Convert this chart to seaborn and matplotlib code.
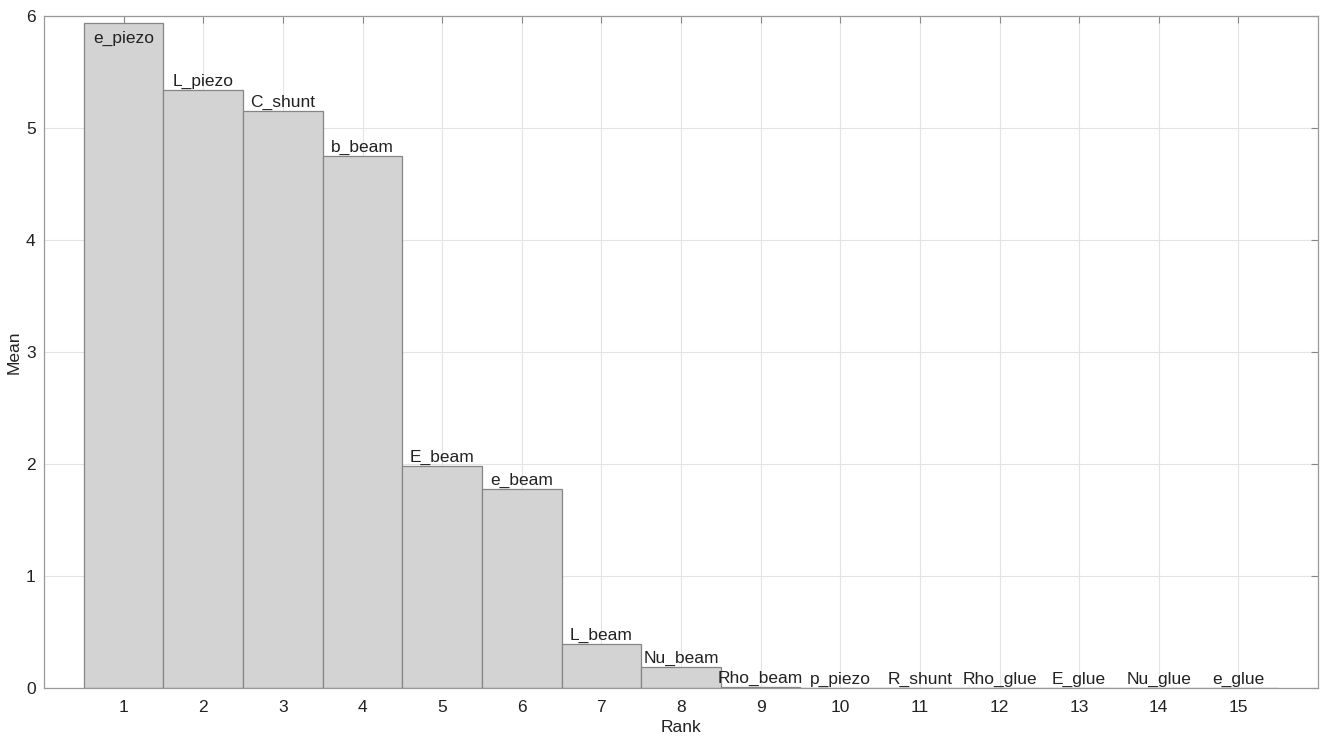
import numpy as np
import pandas as pd
import matplotlib
matplotlib.use("Agg")
import matplotlib.pyplot as plt
import seaborn as sns

# Data
ranks = list(range(1, 16))
names = ["e_piezo", "L_piezo", "C_shunt", "b_beam", "E_beam", "e_beam", "L_beam",
         "Nu_beam", "Rho_beam", "p_piezo", "R_shunt", "Rho_glue", "E_glue", "Nu_glue", "e_glue"]
means = [5.94, 5.34, 5.15, 4.75, 1.98, 1.78, 0.39, 0.19, 0.01, 0.0, 0.0, 0.0, 0.0, 0.0, 0.0]

df = pd.DataFrame({"Rank": ranks, "Mean": means, "Name": names})

sns.set_style("white")
plt.rcParams["font.family"] = ["Liberation Sans", "DejaVu Sans"]
fs = 12.5

fig = plt.figure(figsize=(13.22, 7.4), dpi=100)
ax = fig.add_axes([44 / 1322, 52 / 740, 1274 / 1322, 672 / 740])

sns.barplot(data=df, x="Rank", y="Mean", native_scale=True, width=1.0,
            color="#d3d3d3", saturation=1, edgecolor="#858585", linewidth=0.9, ax=ax)

for r, m, n in zip(ranks, means, names):
    if m > 5.8:
        ax.text(r, m - 0.07, n, ha="center", va="top", fontsize=fs, color="#222222")
    else:
        ax.text(r, m + 0.01, n, ha="center", va="bottom", fontsize=fs, color="#222222")

ax.set_xlim(0, 16)
ax.set_ylim(0, 6)
ax.set_xticks(ranks)
ax.set_yticks(range(0, 7))
ax.grid(True, color="#e4e4e4", linewidth=0.8, linestyle="-")
ax.set_axisbelow(True)
ax.tick_params(direction="in", length=5, color="#888888", labelsize=fs,
               top=True, right=True, labelcolor="#222222")
ax.tick_params(axis="x", pad=9)
ax.tick_params(axis="y", pad=6)
for s in ax.spines.values():
    s.set_visible(True)
    s.set_color("#999999")
    s.set_linewidth(0.9)
ax.set_xlabel("Rank", fontsize=fs, color="#222222", labelpad=3)
ax.set_ylabel("Mean", fontsize=fs, color="#222222", labelpad=3)

fig.savefig("out.png", dpi=100)
